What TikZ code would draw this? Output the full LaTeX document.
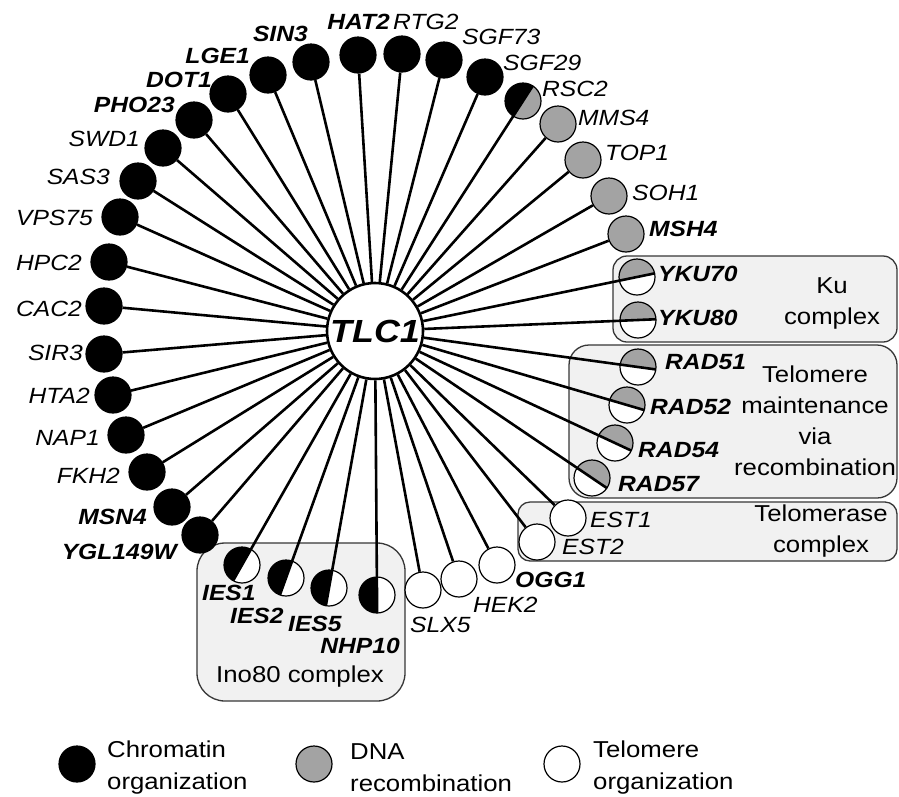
\documentclass[tikz,border=0pt]{standalone}
\usepackage{fontspec}
\setmainfont[FakeStretch=1.12]{Liberation Sans}
\usetikzlibrary{calc}
\definecolor{gr}{RGB}{163,163,163}
\definecolor{boxfill}{RGB}{241,241,241}
\definecolor{boxline}{RGB}{55,55,55}
\pgfdeclarelayer{bg}\pgfdeclarelayer{mid}\pgfsetlayers{bg,mid,main}
\newcommand\halves[3]{%
  \begin{scope}
    \clip (#1.center) circle (18pt);
    \fill[#2] ($(#1.center)!40pt!(tlc.center)$) -- ($(#1.center)!40pt!90:(tlc.center)$) -- ($(#1.center)!-40pt!(tlc.center)$) -- cycle;
    \fill[#3] ($(#1.center)!40pt!(tlc.center)$) -- ($(#1.center)!40pt!-90:(tlc.center)$) -- ($(#1.center)!-40pt!(tlc.center)$) -- cycle;
  \end{scope}
  \draw[link] (tlc) -- ($(#1.center)!-18pt!(tlc.center)$);
}
\begin{document}
\begin{tikzpicture}[x=1pt,y=-1pt,
  gene/.style={circle, draw=black, line width=1.2pt, minimum size=36pt, inner sep=0pt},
  chrom/.style={gene, fill=black},
  recomb/.style={gene, fill=gr},
  telo/.style={gene, fill=white},
  splitg/.style={gene},
  hub/.style={circle, draw=black, line width=2.6pt, fill=white, minimum size=96pt, inner sep=0pt, font=\fontsize{32}{36}\selectfont\bfseries\itshape},
  lab/.style={inner sep=0pt, font=\fontsize{22}{26}\selectfont\itshape},
  blab/.style={inner sep=0pt, font=\fontsize{22}{26}\selectfont\bfseries\itshape},
  link/.style={line width=2.6pt},
  grp/.style={draw=boxline, fill=boxfill, line width=1.3pt},
  grptext/.style={font=\fontsize{23}{31}\selectfont, align=center, inner sep=0pt},
  legtext/.style={font=\fontsize{23}{32}\selectfont, align=left, inner sep=0pt},
]
\useasboundingbox (0,0) rectangle (899,796);

% group boxes
\begin{pgfonlayer}{bg}
\fill[white] (0,0) rectangle (899,796);
\draw[grp, rounded corners=14pt] (613,256) rectangle (897,342);
\draw[grp, rounded corners=20pt] (569,345) rectangle (897,498);
\draw[grp, rounded corners=12pt] (518,502) rectangle (897,561);
\draw[grp, rounded corners=28pt] (197,543) rectangle (405,701);
\end{pgfonlayer}
\node[grptext] (kutext) at (832,303) {Ku\\complex};
\node[grptext] (tmtext) at (815,421) {Telomere\\maintenance\\via\\recombination};
\node[grptext] (tetext) at (821,531) {Telomerase\\complex};
\node[grptext] (inotext) at (300,677) {Ino80 complex};

% hub
\node[hub] (tlc) at (375,331) {TLC1};

% genes
\foreach \n/\x/\y/\s in {
  ygl/200/535/chrom, msn4/172/507/chrom, fkh2/147/472/chrom, nap1/126/435/chrom,
  hta2/113/395/chrom, sir3/104/354/chrom, cac2/104/306/chrom, hpc2/109/262/chrom,
  vps75/120/217/chrom, sas3/138/181/chrom, swd1/163/148/chrom, pho23/194/120/chrom,
  dot1/228/94/chrom, lge1/268/75/chrom, sin3/311/62/chrom, hat2/358/55/chrom,
  rtg2/402/54/chrom, sgf73/444/60/chrom, sgf29/485/77/chrom,
  rsc2/523/101/splitg,
  mms4/558/124/recomb, top1/583/160/recomb, soh1/609/196/recomb, msh4/626/234/recomb,
  yku70/637/277/splitg, yku80/638/320/splitg, rad51/638/367/splitg, rad52/627/405/splitg,
  rad54/615/443/splitg, rad57/592/478/splitg,
  est1/568/518/telo, est2/537/542/telo, ogg1/497/565/telo, hek2/459/579/telo, slx5/423/590/telo,
  nhp10/377/595/splitg, ies5/329/588/splitg, ies2/286/578/splitg, ies1/242/565/splitg}
  \node[\s] (\n) at (\x,\y) {};

% connectors
\begin{pgfonlayer}{mid}
\foreach \n in {ygl,msn4,fkh2,nap1,hta2,sir3,cac2,hpc2,vps75,sas3,swd1,pho23,dot1,lge1,sin3,hat2,
  rtg2,sgf73,sgf29,mms4,top1,soh1,msh4,est1,est2,ogg1,hek2,slx5}
  \draw[link] (tlc) -- (\n);
\halves{rsc2}{gr}{black}
\foreach \n in {yku70,yku80,rad51,rad52,rad54,rad57} {\halves{\n}{white}{gr}}
\foreach \n in {nhp10,ies5,ies2,ies1} {\halves{\n}{black}{white}}
\end{pgfonlayer}

% labels
\foreach \n/\x/\y/\a/\st/\t in {
  ygl/177/559/base east/blab/YGL149W, msn4/147/524/base east/blab/MSN4,
  fkh2/120/483/base east/lab/FKH2, nap1/100/445/base east/lab/NAP1,
  hta2/90/403/base east/lab/HTA2, sir3/83/360/base east/lab/SIR3,
  cac2/82/316/base east/lab/CAC2, hpc2/82/270/base east/lab/HPC2,
  vps75/93/225/base east/lab/VPS75, sas3/110/184/base east/lab/SAS3,
  swd1/140/146/base east/lab/SWD1, pho23/175/112/base east/blab/PHO23,
  dot1/212/87/base east/blab/DOT1, lge1/250/63/base east/blab/LGE1,
  sin3/308/41/base east/blab/SIN3, hat2/390/29/base east/blab/HAT2,
  rtg2/393/29/base west/lab/RTG2, sgf73/462/44/base west/lab/SGF73,
  sgf29/503/70/base west/lab/SGF29, rsc2/542/96/base west/lab/RSC2,
  mms4/578/125/base west/lab/MMS4, top1/605/160/base west/lab/TOP1,
  soh1/632/200/base west/lab/SOH1, msh4/649/236/base west/blab/MSH4,
  yku70/658/281/base west/blab/YKU70, yku80/658/325/base west/blab/YKU80,
  rad51/665/369/base west/blab/RAD51, rad52/650/414/base west/blab/RAD52,
  rad54/638/457/base west/blab/RAD54, rad57/618/491/base west/blab/RAD57,
  est1/590/527/base west/lab/EST1, est2/562/554/base west/lab/EST2,
  ogg1/515/587/base west/blab/OGG1, hek2/473/612/base west/lab/HEK2,
  slx5/410/632/base west/lab/SLX5, nhp10/400/653/base east/blab/NHP10,
  ies5/288/631/base west/blab/IES5, ies2/230/623/base west/blab/IES2,
  ies1/202/600/base west/blab/IES1}
  \node[\st, anchor=\a] (\n-l) at (\x,\y) {\t};

% legend
\node[chrom] (lg1) at (77,764) {};
\node[legtext, anchor=west] (lg1t) at (107,768) {Chromatin\\organization};
\node[recomb] (lg2) at (314,764) {};
\node[legtext, anchor=west] (lg2t) at (350,768) {DNA\\recombination};
\node[telo] (lg3) at (562,764) {};
\node[legtext, anchor=west] (lg3t) at (593,768) {Telomere\\organization};
\end{tikzpicture}
\end{document}
